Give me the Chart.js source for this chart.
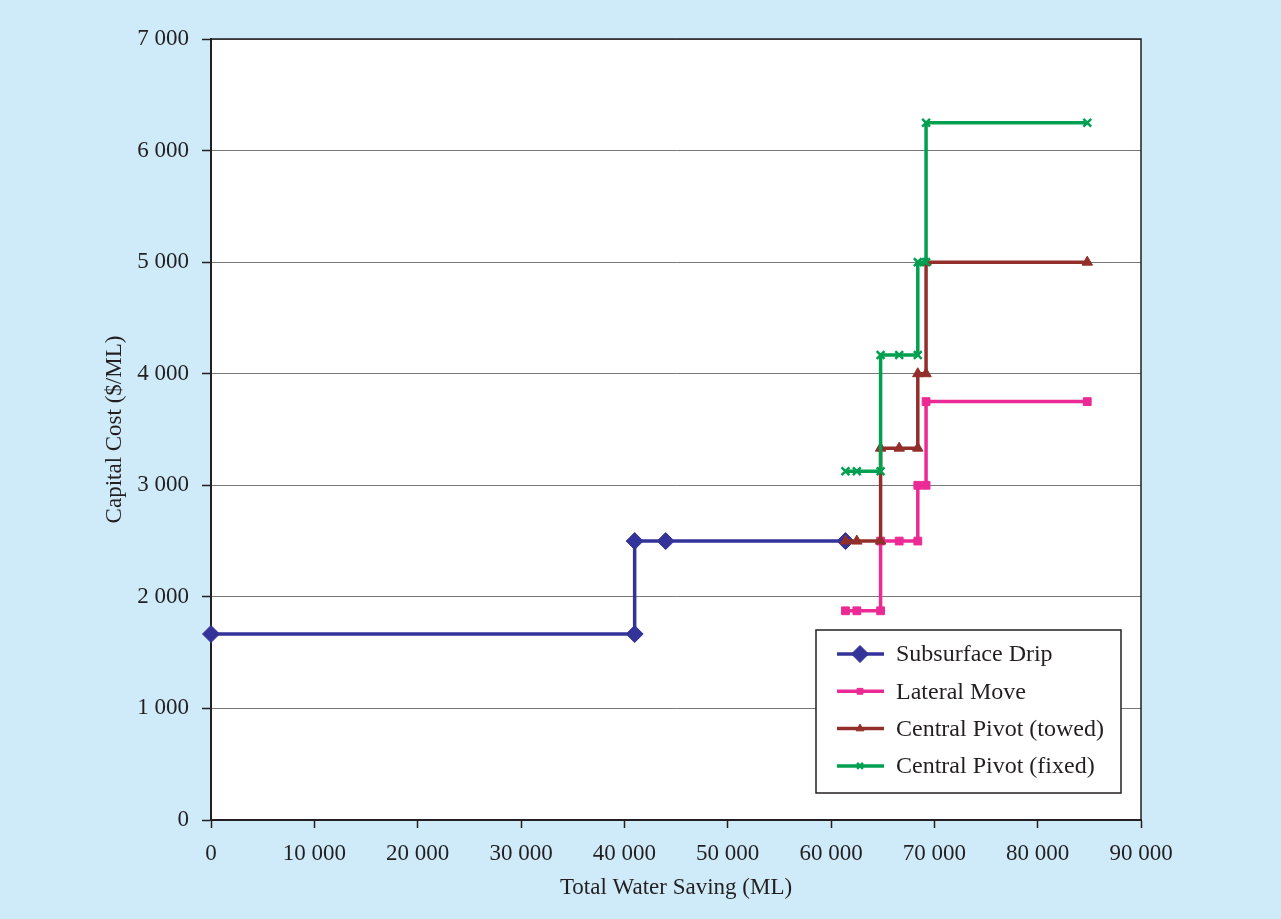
<!DOCTYPE html>
<html lang="en">
<head>
<meta charset="UTF-8">
<title>Capital Cost vs Total Water Saving</title>
<script src="https://cdn.jsdelivr.net/npm/chart.js"></script>
<style>
  body { margin: 0; background: #cfebfa; }
  #wrap { width: 1281px; height: 919px; }
</style>
</head>
<body>
<div id="wrap"><canvas id="costChart" width="1281" height="919"></canvas></div>
<script>
// step curves (x = ML saved, y = $/ML)
const seriesNames = ['Subsurface Drip', 'Lateral Move', 'Central Pivot (towed)', 'Central Pivot (fixed)'];

const dripX = [0, 41000, 41000, 44000, 61400];
const dripY = [1667, 1667, 2500, 2500, 2500];

const lateralX = [61400, 62500, 64800, 64800, 66600, 68400, 68400, 69200, 69200, 84800];
const lateralY = [1875, 1875, 1875, 2500, 2500, 2500, 3000, 3000, 3750, 3750];

const towedX = [61400, 62500, 64800, 64800, 66600, 68400, 68400, 69200, 69200, 84800];
const towedY = [2500, 2500, 2500, 3333, 3333, 3333, 4000, 4000, 5000, 5000];

const fixedX = [61400, 62500, 64800, 64800, 66600, 68400, 68400, 69200, 69200, 84800];
const fixedY = [3125, 3125, 3125, 4167, 4167, 4167, 5000, 5000, 6250, 6250];

const xTicks = [0, 10000, 20000, 30000, 40000, 50000, 60000, 70000, 80000, 90000];
const yTicks = [0, 1000, 2000, 3000, 4000, 5000, 6000, 7000];

const ink = '#231f20';
const serif = 'Liberation Serif';

function pts(xs, ys) {
  return xs.map((x, i) => ({ x: x, y: ys[i] }));
}

function spaced(v) {
  return String(v).replace(/\B(?=(\d{3})+(?!\d))/g, ' ');
}

function series(i, xs, ys, color, style, radius, bw, order) {
  return {
    label: seriesNames[i],
    data: pts(xs, ys),
    showLine: true,
    clip: false,
    borderColor: color,
    backgroundColor: color,
    borderWidth: 3.5,
    pointStyle: style,
    pointRadius: radius,
    pointHoverRadius: radius,
    pointBackgroundColor: color,
    pointBorderColor: color,
    pointBorderWidth: bw,
    tension: 0,
    order: order
  };
}

// white plot area + top/right frame
const plotFrame = {
  id: 'plotFrame',
  beforeDraw(chart) {
    const a = chart.chartArea, ctx = chart.ctx;
    ctx.save();
    ctx.fillStyle = '#ffffff';
    ctx.fillRect(a.left, a.top, a.right - a.left, a.bottom - a.top);
    ctx.restore();
  },
  beforeDatasetsDraw(chart) {
    const a = chart.chartArea, ctx = chart.ctx;
    ctx.save();
    ctx.strokeStyle = ink;
    ctx.lineWidth = 1.5;
    ctx.beginPath();
    ctx.moveTo(a.left, a.top);
    ctx.lineTo(a.right, a.top);
    ctx.lineTo(a.right, a.bottom);
    ctx.stroke();
    ctx.restore();
  }
};

// boxed legend inside the plot, bottom right
const boxLegend = {
  id: 'boxLegend',
  afterDatasetsDraw(chart) {
    const a = chart.chartArea, ctx = chart.ctx;
    const left = a.right - 325, top = a.bottom - 190, w = 305, h = 163;
    ctx.save();
    ctx.fillStyle = '#ffffff';
    ctx.fillRect(left, top, w, h);
    ctx.strokeStyle = ink;
    ctx.lineWidth = 1.5;
    ctx.strokeRect(left, top, w, h);
    chart.data.datasets.forEach((ds, i) => {
      const y = top + 24 + i * 37.3;
      ctx.strokeStyle = ds.borderColor;
      ctx.fillStyle = ds.borderColor;
      ctx.lineWidth = 3.5;
      ctx.beginPath();
      ctx.moveTo(left + 21, y);
      ctx.lineTo(left + 68, y);
      ctx.stroke();
      if (Chart.helpers && Chart.helpers.drawPoint) {
        ctx.lineWidth = ds.pointBorderWidth;
        Chart.helpers.drawPoint(ctx, {
          pointStyle: ds.pointStyle,
          radius: i === 0 ? ds.pointRadius : ds.pointRadius * 0.75,
          rotation: 0,
          borderWidth: ds.pointBorderWidth
        }, left + 44, y);
      }
      ctx.fillStyle = ink;
      ctx.font = '24px "' + serif + '"';
      ctx.textBaseline = 'middle';
      ctx.textAlign = 'left';
      ctx.fillText(ds.label, left + 80, y + 1);
    });
    ctx.restore();
  }
};

const ctx = document.getElementById('costChart').getContext('2d');
new Chart(ctx, {
  type: 'scatter',
  data: {
    datasets: [
      series(0, dripX, dripY, '#333399', 'rectRot', 8.5, 1, 3),
      series(1, lateralX, lateralY, '#ec2a95', 'rect', 5.5, 1, 2),
      series(2, towedX, towedY, '#922f2a', 'triangle', 6, 1, 1),
      series(3, fixedX, fixedY, '#00a050', 'crossRot', 5.5, 2.5, 0)
    ]
  },
  options: {
    responsive: false,
    animation: false,
    layout: { padding: { left: 101, top: 39, right: 140, bottom: 17 } },
    plugins: {
      legend: { display: false },
      tooltip: { enabled: false }
    },
    scales: {
      x: {
        type: 'linear',
        min: 0,
        max: 90000,
        afterBuildTicks: s => { s.ticks = xTicks.map(v => ({ value: v })); },
        afterFit: s => { s.height = 82; },
        ticks: {
          callback: v => spaced(v),
          font: { family: serif, size: 23 },
          color: ink,
          padding: 12,
          maxRotation: 0,
          autoSkip: false
        },
        grid: { drawOnChartArea: false, tickLength: 8, tickColor: ink, tickWidth: 1.5 },
        border: { color: ink, width: 2 },
        title: {
          display: true,
          text: 'Total Water Saving (ML)',
          font: { family: serif, size: 23 },
          color: ink,
          padding: 0
        }
      },
      y: {
        min: 0,
        max: 7000,
        afterBuildTicks: s => { s.ticks = yTicks.map(v => ({ value: v })); },
        afterFit: s => { s.width = 110; },
        ticks: {
          callback: v => spaced(v),
          font: { family: serif, size: 23 },
          color: ink,
          padding: 13
        },
        grid: { color: '#777777', lineWidth: 1, tickLength: 9, tickColor: ink, tickWidth: 1.5 },
        border: { color: ink, width: 2 },
        title: {
          display: true,
          text: 'Capital Cost ($/ML)',
          font: { family: serif, size: 23 },
          color: ink,
          padding: 0
        }
      }
    }
  },
  plugins: [plotFrame, boxLegend]
});
</script>
</body>
</html>
